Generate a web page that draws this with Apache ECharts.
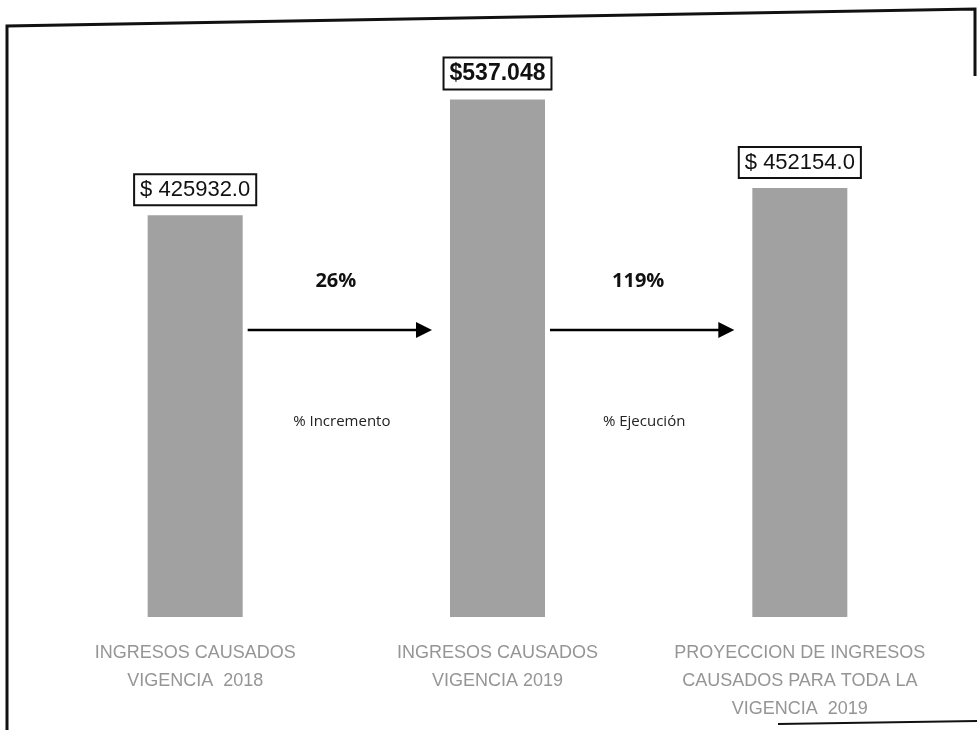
<!DOCTYPE html>
<html>
<head>
<meta charset="utf-8">
<script src="https://cdn.jsdelivr.net/npm/echarts@6/dist/echarts.min.js"></script>
<style>
html,body{margin:0;padding:0;background:#fff;}
#chart{width:977px;height:730px;}
</style>
</head>
<body>
<div id="chart"></div>
<script>
const categories = [
  'INGRESOS CAUSADOS\nVIGENCIA  2018',
  'INGRESOS CAUSADOS\nVIGENCIA 2019',
  'PROYECCION DE INGRESOS\nCAUSADOS PARA TODA LA\nVIGENCIA  2019'
];
const values = [425932.0, 537048, 452154.0];
const valueLabels = ['$ 425932.0', '$537.048', '$ 452154.0'];
const changeValues = ['26%', '119%'];
const changeNames = ['% Incremento', '% Ejecución'];

const chart = echarts.init(document.getElementById('chart'), null, {renderer: 'canvas'});
const BAR_W = 95;

chart.setOption({
  backgroundColor: '#ffffff',
  animation: false,
  grid: {left: 44, right: 26, top: 60, bottom: 113},
  xAxis: {
    type: 'category',
    data: categories,
    axisLine: {show: false},
    axisTick: {show: false},
    axisLabel: {
      margin: 22,
      interval: 0,
      color: '#959595',
      fontFamily: 'Liberation Sans',
      fontSize: 18,
      lineHeight: 28
    }
  },
  yAxis: {
    type: 'value',
    min: 40000,
    max: 575000,
    show: false
  },
  series: [{
    type: 'bar',
    barWidth: BAR_W,
    data: values.map((v, i) => i === 1
      ? {value: v, label: {fontWeight: 'bold', fontSize: 23}}
      : {value: v}),
    itemStyle: {color: '#a1a1a1'},
    label: {
      show: true,
      position: 'top',
      distance: 11,
      formatter: p => valueLabels[p.dataIndex],
      color: '#111',
      fontFamily: 'Liberation Sans',
      fontSize: 22,
      fontWeight: 'normal',
      borderColor: '#111',
      borderWidth: 2,
      padding: [4, 5, 3, 5],
      backgroundColor: '#fff'
    }
  }]
});

function buildGraphics() {
  const els = [];
  const arrowY = 330;
  for (let i = 0; i < changeValues.length; i++) {
    const x0 = chart.convertToPixel({xAxisIndex: 0}, i) + BAR_W / 2 + 5;
    const x1 = chart.convertToPixel({xAxisIndex: 0}, i + 1) - BAR_W / 2 - 18;
    const mid = (x0 + x1) / 2;
    els.push({
      type: 'line',
      shape: {x1: x0, y1: arrowY, x2: x1 - 14, y2: arrowY},
      style: {stroke: '#000', lineWidth: 2.5}
    });
    els.push({
      type: 'polygon',
      shape: {points: [[x1 - 16, arrowY - 8], [x1, arrowY], [x1 - 16, arrowY + 8]]},
      style: {fill: '#000'}
    });
    els.push({
      type: 'text',
      x: mid - 4, y: 281,
      style: {
        text: changeValues[i],
        fill: '#111',
        font: 'bold 20px "Open Sans"',
        textAlign: 'center',
        textVerticalAlign: 'middle'
      }
    });
    els.push({
      type: 'text',
      x: mid + 2, y: 422,
      style: {
        text: changeNames[i],
        fill: '#222',
        font: '15px "Open Sans"',
        textAlign: 'center',
        textVerticalAlign: 'middle'
      }
    });
  }
  // scanned page frame (partial, slightly tilted)
  els.push({
    type: 'polyline',
    shape: {points: [[7, 730], [7, 26], [975, 9], [975, 76]]},
    style: {stroke: '#111', lineWidth: 3, fill: null}
  });
  els.push({
    type: 'line',
    shape: {x1: 778, y1: 724, x2: 977, y2: 721},
    style: {stroke: '#111', lineWidth: 2}
  });
  chart.setOption({graphic: {elements: els}});
}
buildGraphics();
</script>
</body>
</html>
